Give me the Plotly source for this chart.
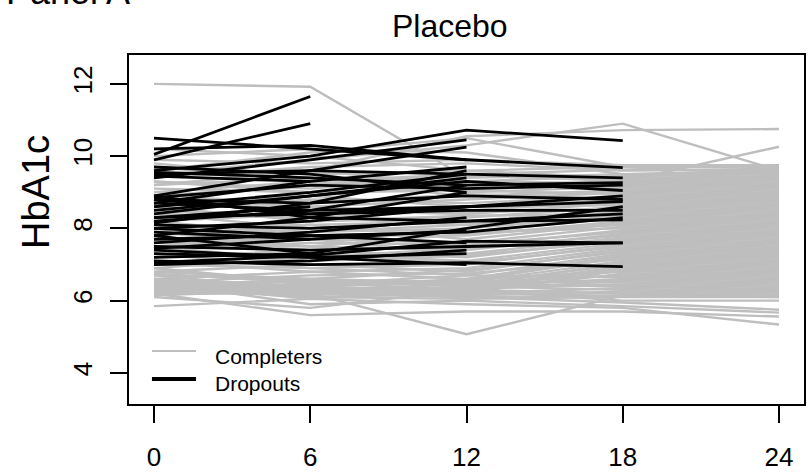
import plotly.graph_objects as go

# Visit times (months)
times = [0, 6, 12, 18, 24]
x_ticks = [0, 6, 12, 18, 24]
y_ticks = [4, 6, 8, 10, 12]

# Completers: HbA1c at months 0, 6, 12, 18, 24
completers = [
    [12.0, 11.92, 9.4, 9.5, 9.6],
    [9.5, 9.9, 10.3, 10.9, 9.6],
    [9.2, 9.6, 10.55, 10.72, 10.75],
    [9.6, 10.1, 10.5, 9.7, 9.5],
    [8.8, 9.2, 9.5, 9.3, 10.26],
    [6.2, 6.2, 5.07, 6.15, 6.1],
    [5.85, 6.05, 5.9, 5.8, 5.34],
    [6.2, 5.6, 5.7, 5.7, 5.56],
    [6.5, 5.9, 6.0, 5.85, 5.67],
    [6.4, 6.2, 6.1, 5.95, 5.75],
    [6.1, 5.8, 6.3, 6.0, 6.0],
    [9.9, 9.8, 9.9, 9.75, 9.75],
    [10.2, 10.0, 9.6, 9.7, 9.7],
    [9.4, 9.7, 9.8, 9.6, 9.65],
    [9.6, 9.3, 9.5, 9.62, 9.6],
    [10.0, 10.2, 10.1, 9.5, 9.55],
    [9.2, 9.4, 9.3, 9.45, 9.5],
    [9.7, 9.5, 9.6, 9.4, 9.45],
    [9.3, 9.1, 9.45, 9.35, 9.4],
    [9.5, 9.6, 9.2, 9.3, 9.35],
    [8.9, 9.2, 9.3, 9.25, 9.3],
    [9.1, 9.0, 9.1, 9.2, 9.25],
    [9.8, 9.4, 9.0, 9.15, 9.2],
    [8.7, 8.9, 9.2, 9.1, 9.15],
    [9.0, 9.3, 8.9, 9.05, 9.1],
    [8.8, 8.6, 8.8, 9.0, 9.05],
    [9.3, 9.0, 9.05, 8.95, 9.0],
    [8.5, 8.8, 8.7, 8.9, 8.95],
    [8.9, 8.7, 8.95, 8.85, 8.9],
    [8.6, 8.9, 8.6, 8.8, 8.85],
    [8.4, 8.3, 8.5, 8.75, 8.8],
    [8.8, 8.5, 8.4, 8.7, 8.75],
    [8.2, 8.4, 8.6, 8.65, 8.7],
    [8.6, 8.2, 8.3, 8.6, 8.65],
    [8.3, 8.6, 8.45, 8.55, 8.6],
    [8.0, 8.1, 8.2, 8.5, 8.55],
    [8.5, 8.3, 8.1, 8.45, 8.5],
    [7.9, 8.2, 8.35, 8.4, 8.45],
    [8.1, 7.9, 8.0, 8.35, 8.4],
    [8.4, 8.0, 7.9, 8.3, 8.35],
    [7.7, 7.9, 8.1, 8.25, 8.3],
    [8.2, 7.8, 7.8, 8.2, 8.25],
    [7.8, 8.1, 7.7, 8.15, 8.2],
    [7.6, 7.5, 7.85, 8.1, 8.15],
    [8.0, 7.7, 7.6, 8.05, 8.1],
    [7.5, 7.8, 7.9, 8.0, 8.05],
    [7.7, 7.4, 7.5, 7.95, 8.0],
    [7.4, 7.6, 7.55, 7.9, 7.95],
    [7.9, 7.5, 7.4, 7.85, 7.9],
    [7.3, 7.2, 7.45, 7.8, 7.85],
    [7.6, 7.7, 7.3, 7.75, 7.8],
    [7.2, 7.4, 7.2, 7.7, 7.75],
    [7.5, 7.1, 7.25, 7.65, 7.7],
    [7.0, 7.3, 7.1, 7.6, 7.65],
    [7.3, 6.9, 7.0, 7.55, 7.6],
    [6.9, 7.2, 7.05, 7.5, 7.55],
    [7.1, 6.8, 6.9, 7.45, 7.5],
    [6.8, 7.0, 6.8, 7.4, 7.45],
    [6.7, 6.6, 6.85, 7.35, 7.4],
    [7.0, 6.9, 6.7, 7.3, 7.35],
    [6.6, 6.8, 6.6, 7.25, 7.3],
    [6.9, 6.5, 6.55, 7.2, 7.25],
    [6.5, 6.7, 6.75, 7.15, 7.2],
    [6.4, 6.4, 6.5, 7.1, 7.15],
    [6.8, 6.6, 6.4, 7.05, 7.1],
    [6.3, 6.3, 6.45, 7.0, 7.05],
    [6.6, 6.2, 6.35, 6.95, 7.0],
    [6.2, 6.5, 6.3, 6.9, 6.95],
    [6.5, 6.1, 6.2, 6.85, 6.9],
    [6.3, 6.4, 6.6, 6.8, 6.85],
    [6.7, 6.3, 6.25, 6.75, 6.8],
    [6.4, 6.6, 6.5, 6.7, 6.75],
    [6.9, 6.45, 6.7, 6.65, 6.7],
    [6.35, 6.55, 6.4, 6.6, 6.65],
    [6.6, 6.35, 6.3, 6.55, 6.6],
    [6.25, 6.45, 6.55, 6.5, 6.55],
    [6.45, 6.25, 6.35, 6.45, 6.5],
    [6.75, 6.5, 6.45, 6.4, 6.45],
    [6.15, 6.3, 6.2, 6.35, 6.4],
    [6.55, 6.15, 6.4, 6.3, 6.35],
    [6.3, 6.35, 6.15, 6.25, 6.3],
    [6.45, 6.05, 6.3, 6.2, 6.25],
    [6.2, 6.25, 6.1, 6.15, 6.2],
    [6.6, 6.4, 6.25, 6.12, 6.15],
    [6.35, 6.1, 6.05, 6.1, 6.1],
]

# Dropouts: HbA1c until the last visit attended
dropouts = [
    [10.05, 11.65],
    [9.9, 10.9],
    [8.3, 8.6],
    [7.9, 7.7],
    [8.7, 9.3],
    [7.2, 7.3],
    [9.4, 9.9, 10.45],
    [8.9, 9.6, 10.25],
    [10.5, 10.2, 9.9],
    [8.6, 9.0, 9.5],
    [8.2, 8.5, 9.2],
    [8.8, 8.4, 8.6],
    [7.6, 7.9, 8.3],
    [7.0, 7.1, 7.4],
    [8.0, 7.8, 7.6],
    [9.7, 9.5, 9.0],
    [7.4, 7.2, 7.0],
    [8.4, 8.9, 9.4],
    [7.8, 8.3, 9.0],
    [9.45, 9.3, 9.7],
    [7.3, 7.2, 7.3],
    [8.15, 8.7, 9.6],
    [7.45, 7.7, 7.95],
    [9.6, 10.0, 10.72, 10.43],
    [10.2, 10.3, 9.9, 9.68],
    [9.5, 9.6, 9.5, 9.4],
    [9.55, 9.4, 9.2, 9.27],
    [8.5, 8.9, 9.3, 9.05],
    [8.8, 8.7, 8.9, 8.8],
    [8.7, 8.5, 8.6, 8.74],
    [8.3, 8.4, 8.5, 8.5],
    [8.1, 8.0, 8.2, 8.24],
    [7.7, 7.8, 7.9, 8.3],
    [7.5, 7.4, 7.5, 7.6],
    [7.1, 7.0, 7.05, 6.94],
    [7.8, 7.3, 8.0, 8.6],
    [8.0, 8.2, 8.6, 8.9],
    [8.85, 9.2, 9.1, 9.2],
    [8.9, 8.3, 8.2, 8.4],
    [7.05, 7.25, 7.65, 7.6],
]


def stack(groups):
    xs, ys = [], []
    for g in groups:
        xs += times[:len(g)] + [None]
        ys += list(g) + [None]
    return xs, ys


cx, cy = stack(completers)
dx, dy = stack(dropouts)

FONT = "Liberation Sans, Arial, sans-serif"

fig = go.Figure()
fig.add_trace(go.Scatter(x=cx, y=cy, mode="lines", connectgaps=False,
                         line=dict(color="#BEBEBE", width=2.4),
                         showlegend=False, hoverinfo="skip"))
fig.add_trace(go.Scatter(x=dx, y=dy, mode="lines", connectgaps=False,
                         line=dict(color="#000000", width=2.8),
                         showlegend=False, hoverinfo="skip"))

axis_common = dict(showline=True, linewidth=2, linecolor="black", mirror=True,
                   ticks="outside", ticklen=17, tickwidth=2, tickcolor="black",
                   showgrid=False, zeroline=False, automargin=False,
                   tickfont=dict(family=FONT, size=26, color="black"))

fig.update_layout(
    width=809, height=473, autosize=False,
    margin=dict(l=129, r=5, t=55, b=69, autoexpand=False),
    paper_bgcolor="white", plot_bgcolor="white",
    showlegend=False,
    xaxis=dict(range=[-0.96, 24.96], tickvals=x_ticks,
               ticktext=[str(v) for v in x_ticks], ticklabelstandoff=12,
               **axis_common),
    yaxis=dict(range=[3.14, 12.8], tickvals=y_ticks,
               ticktext=[str(v) for v in y_ticks], tickangle=-90,
               ticklabelstandoff=8, **axis_common),
)

# Title, y label
fig.add_annotation(text="Placebo", xref="paper", yref="paper", x=0.4756, y=1.083,
                   xanchor="center", yanchor="middle", showarrow=False,
                   font=dict(family=FONT, size=32, color="black"))
fig.add_annotation(text="HbA1c", xref="paper", yref="paper", x=-0.1378, y=0.6074,
                   xanchor="center", yanchor="middle", textangle=-90, showarrow=False,
                   font=dict(family=FONT, size=38, color="black"))
fig.add_annotation(text="Panel A", xref="paper", yref="paper", x=0.0044, y=1.117,
                   xanchor="right", yanchor="bottom", showarrow=False,
                   font=dict(family=FONT, size=36, color="black"))

# Legend (drawn manually, bottom-left inside the box)
fig.add_shape(type="line", xref="paper", yref="paper", x0=0.034, x1=0.0993,
              y0=0.152, y1=0.152, line=dict(color="#BEBEBE", width=2))
fig.add_shape(type="line", xref="paper", yref="paper", x0=0.034, x1=0.0993,
              y0=0.0716, y1=0.0716, line=dict(color="black", width=4))
fig.add_annotation(text="Completers", xref="paper", yref="paper", x=0.1244, y=0.1347,
                   xanchor="left", yanchor="middle", showarrow=False,
                   font=dict(family=FONT, size=21, color="black"))
fig.add_annotation(text="Dropouts", xref="paper", yref="paper", x=0.1244, y=0.060,
                   xanchor="left", yanchor="middle", showarrow=False,
                   font=dict(family=FONT, size=21, color="black"))

fig.write_html("out.html", config={"displayModeBar": False},
               post_script="document.body.style.margin='0';document.body.style.overflow='hidden';")
